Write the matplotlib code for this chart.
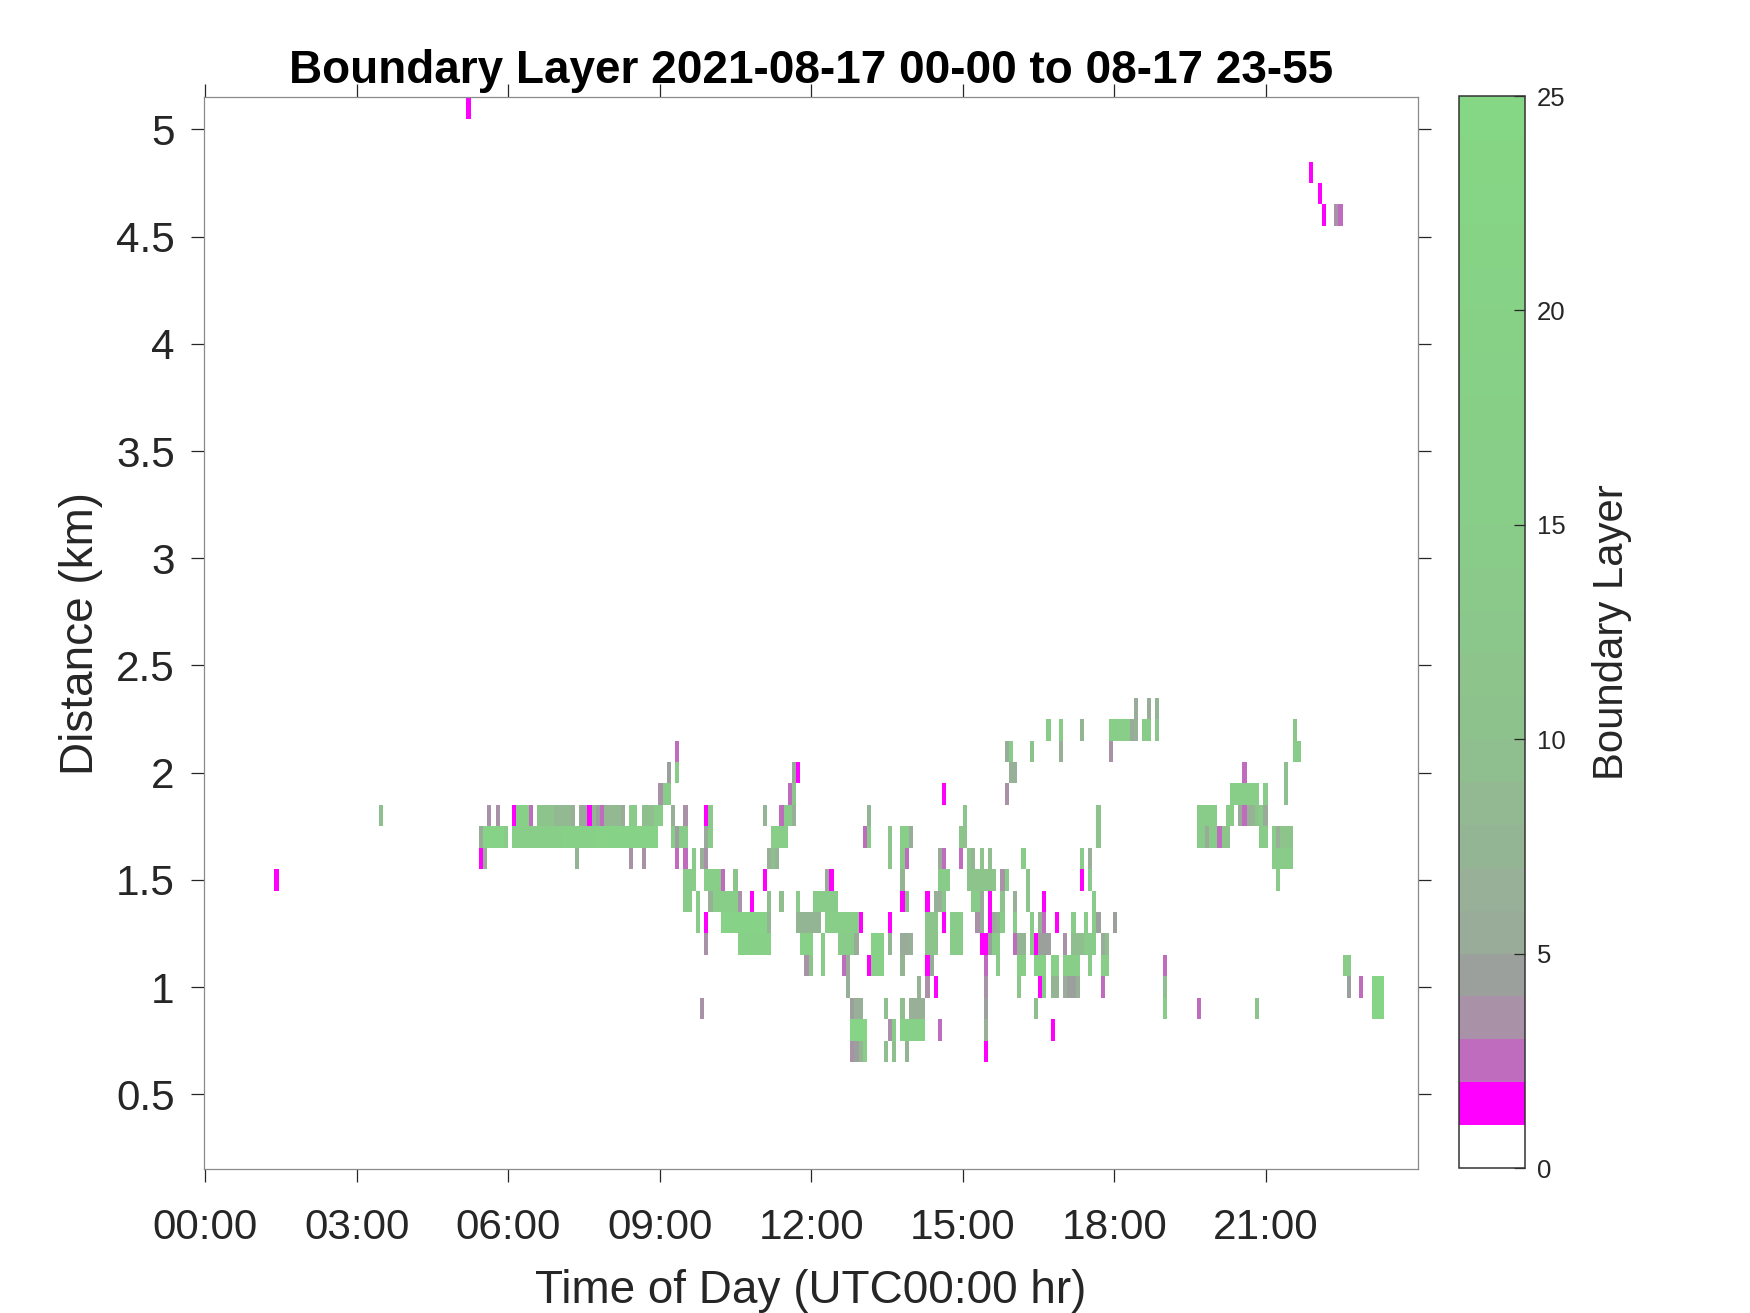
import numpy as np
import matplotlib
matplotlib.use("Agg")
import matplotlib.pyplot as plt
from matplotlib.colors import LinearSegmentedColormap, Normalize

plt.rcParams['font.family'] = ['Liberation Sans', 'DejaVu Sans']

# Boundary layer values, one list per height row (km)
# each entry is (first time column, last time column, value)
row_5_1 = [(62, 62, 1)]
row_4_8 = [(264, 264, 1)]
row_4_7 = [(266, 266, 1)]
row_4_6 = [(267, 267, 1), (270, 270, 3), (271, 271, 2)]
row_2_3 = [(222, 222, 5), (225, 225, 5), (227, 227, 7)]
row_2_2 = [(201, 201, 14), (204, 204, 14), (209, 209, 7), (216, 220, 16), (221, 221, 5),
           (222, 222, 6), (224, 225, 14), (227, 227, 11), (260, 260, 11)]
row_2_1 = [(112, 112, 2), (191, 191, 5), (192, 192, 14), (197, 197, 11), (204, 204, 6),
           (216, 216, 3), (260, 261, 14)]
row_2_0 = [(110, 110, 4), (112, 112, 14), (140, 140, 5), (141, 141, 1), (192, 193, 6),
           (248, 248, 2), (258, 258, 9)]
row_1_9 = [(108, 108, 3), (109, 110, 14), (139, 139, 2), (140, 140, 11), (176, 176, 1),
           (191, 191, 3), (245, 251, 16), (253, 253, 14), (258, 258, 9)]
row_1_8 = [(41, 41, 9), (67, 67, 3), (69, 69, 3), (73, 73, 1), (74, 76, 18), (77, 77, 2),
           (79, 82, 11), (83, 86, 8), (87, 87, 6), (89, 90, 5), (91, 91, 1), (92, 92, 7),
           (93, 93, 4), (94, 94, 2), (95, 98, 8), (99, 99, 5), (101, 102, 14), (104, 106, 9),
           (107, 108, 14), (111, 111, 6), (114, 114, 3), (119, 119, 1), (120, 120, 14),
           (133, 133, 7), (137, 137, 2), (138, 139, 14), (140, 140, 6), (158, 158, 7),
           (181, 181, 11), (213, 213, 11), (237, 241, 14), (244, 245, 14), (247, 247, 5),
           (248, 248, 2), (249, 249, 6), (250, 250, 7), (251, 251, 11), (252, 252, 14),
           (253, 253, 5)]
row_1_7 = [(65, 65, 5), (66, 70, 20), (71, 71, 14), (73, 84, 16), (85, 92, 18), (93, 107, 20),
           (111, 111, 14), (112, 112, 4), (113, 114, 14), (119, 119, 5), (120, 120, 14),
           (135, 138, 16), (157, 157, 2), (158, 158, 14), (163, 163, 11), (166, 167, 16),
           (168, 168, 5), (180, 181, 11), (213, 213, 11), (237, 238, 14), (239, 239, 5),
           (240, 241, 14), (242, 242, 2), (243, 244, 11), (252, 253, 14), (255, 255, 14),
           (256, 256, 6), (257, 259, 11)]
row_1_6 = [(65, 65, 1), (66, 66, 6), (88, 88, 7), (101, 101, 3), (104, 104, 3), (112, 112, 2),
           (114, 114, 2), (116, 116, 14), (118, 118, 6), (119, 119, 3), (134, 134, 6),
           (135, 135, 9), (136, 136, 7), (163, 163, 11), (166, 166, 14), (167, 167, 2),
           (175, 175, 5), (176, 176, 2), (180, 180, 2), (182, 182, 11), (183, 183, 7),
           (185, 185, 11), (187, 187, 9), (195, 195, 14), (209, 209, 14), (211, 211, 6),
           (255, 259, 14)]
row_1_5 = [(16, 16, 1), (114, 116, 14), (119, 122, 16), (123, 123, 2), (126, 126, 11),
           (133, 133, 1), (148, 148, 5), (149, 149, 1), (166, 166, 7), (175, 177, 14),
           (182, 188, 11), (190, 190, 3), (191, 191, 14), (196, 196, 11), (209, 209, 1),
           (211, 211, 14), (256, 256, 14)]
row_1_4 = [(114, 115, 14), (117, 117, 14), (120, 120, 6), (121, 126, 16), (127, 127, 3),
           (130, 130, 1), (134, 134, 9), (137, 137, 9), (141, 141, 14), (145, 150, 14),
           (166, 166, 1), (167, 167, 9), (172, 172, 1), (174, 175, 6), (176, 176, 11),
           (183, 184, 14), (185, 185, 5), (187, 187, 1), (190, 190, 11), (193, 193, 6),
           (196, 196, 11), (200, 200, 1), (212, 212, 14)]
row_1_3 = [(117, 117, 14), (119, 119, 1), (123, 133, 20), (134, 134, 7), (141, 146, 7),
           (148, 155, 16), (156, 156, 1), (163, 163, 1), (172, 174, 11), (176, 176, 1),
           (178, 180, 14), (184, 184, 3), (185, 185, 5), (187, 187, 1), (188, 188, 5),
           (189, 189, 7), (190, 190, 14), (193, 193, 14), (197, 197, 14), (199, 199, 7),
           (200, 200, 2), (203, 203, 1), (207, 207, 14), (210, 210, 14), (212, 212, 14),
           (213, 213, 4), (217, 217, 4)]
row_1_2 = [(119, 119, 3), (127, 134, 18), (142, 144, 18), (147, 147, 14), (151, 154, 14),
           (155, 155, 5), (159, 161, 18), (163, 163, 7), (166, 167, 5), (168, 168, 6),
           (172, 174, 11), (178, 180, 14), (185, 186, 1), (187, 187, 4), (188, 189, 14),
           (193, 193, 2), (194, 195, 7), (197, 197, 14), (198, 198, 1), (199, 201, 4),
           (205, 205, 3), (207, 209, 9), (210, 212, 14), (214, 214, 5), (215, 215, 9)]
row_1_1 = [(143, 143, 3), (144, 144, 11), (147, 147, 14), (152, 152, 2), (153, 153, 5),
           (158, 158, 1), (159, 161, 18), (166, 166, 7), (172, 172, 1), (173, 173, 5),
           (186, 186, 2), (189, 189, 14), (194, 195, 16), (198, 200, 18), (202, 203, 18),
           (205, 208, 16), (211, 211, 14), (214, 215, 16), (229, 229, 2), (272, 273, 14)]
row_1_0 = [(153, 153, 6), (170, 170, 7), (172, 172, 3), (174, 174, 1), (186, 186, 3),
           (194, 194, 11), (199, 199, 1), (200, 200, 14), (202, 203, 7), (205, 205, 5),
           (206, 207, 4), (208, 208, 6), (214, 214, 2), (229, 229, 9), (273, 273, 4),
           (276, 276, 2), (279, 281, 22)]
row_0_9 = [(118, 118, 3), (154, 154, 4), (155, 156, 6), (162, 162, 9), (166, 166, 9),
           (168, 171, 6), (186, 186, 4), (198, 198, 9), (229, 229, 14), (237, 237, 2),
           (251, 251, 11), (279, 281, 22)]
row_0_8 = [(154, 157, 22), (163, 163, 3), (164, 164, 14), (166, 171, 18), (175, 175, 2),
           (186, 186, 6), (202, 202, 1)]
row_0_7 = [(154, 154, 3), (155, 155, 4), (156, 156, 7), (157, 157, 16), (162, 162, 9),
           (164, 164, 9), (167, 167, 7), (186, 186, 1)]

rows = {5.1: row_5_1, 4.8: row_4_8, 4.7: row_4_7, 4.6: row_4_6, 2.3: row_2_3, 2.2: row_2_2,
        2.1: row_2_1, 2.0: row_2_0, 1.9: row_1_9, 1.8: row_1_8, 1.7: row_1_7, 1.6: row_1_6,
        1.5: row_1_5, 1.4: row_1_4, 1.3: row_1_3, 1.2: row_1_2, 1.1: row_1_1, 1.0: row_1_0,
        0.9: row_0_9, 0.8: row_0_8, 0.7: row_0_7}

time_ticks = [0, 3, 6, 9, 12, 15, 18, 21]
time_labels = ['00:00', '03:00', '06:00', '09:00', '12:00', '15:00', '18:00', '21:00']
dist_ticks = [0.5, 1, 1.5, 2, 2.5, 3, 3.5, 4, 4.5, 5]
dist_labels = ['0.5', '1', '1.5', '2', '2.5', '3', '3.5', '4', '4.5', '5']
cbar_ticks = [0, 5, 10, 15, 20, 25]

# Grid: a column is a bit under 5 minutes wide on the axis, rows are 0.1 km
n_cols = 290
time_edges = 0.0446 + np.arange(n_cols + 1) * 0.08262
dist_edges = 0.15 + np.arange(51) * 0.1
grid = np.zeros((50, n_cols))
for km, runs in rows.items():
    r = int(round((km - 0.2) * 10))
    for first, last, val in runs:
        grid[r, first:last + 1] = val

# 25 level colormap
cmap = LinearSegmentedColormap.from_list('layer', [
    (0 / 24, (1, 1, 1)),
    (1 / 24, (1, 0, 1)),
    (2 / 24, (192 / 255, 108 / 255, 190 / 255)),
    (3 / 24, (169 / 255, 146 / 255, 168 / 255)),
    (4 / 24, (156 / 255, 160 / 255, 156 / 255)),
    (5 / 24, (153 / 255, 172 / 255, 153 / 255)),
    (10 / 24, (141 / 255, 194 / 255, 141 / 255)),
    (15 / 24, (136 / 255, 205 / 255, 136 / 255)),
    (24 / 24, (133 / 255, 214 / 255, 133 / 255)),
], N=25)

W, H = 1750, 1313
fig = plt.figure(figsize=(W / 100, H / 100), dpi=100)
ax = fig.add_axes([203.7 / W, 1 - 1169.3 / H, (1418.3 - 203.7) / W, (1169.3 - 97.3) / H])
mesh = ax.pcolormesh(time_edges, dist_edges, np.ma.masked_equal(grid, 0), cmap=cmap,
                     norm=Normalize(0, 25), linewidth=0, rasterized=True)
ax.set_xlim(-0.035, 24.016)
ax.set_ylim(0.15, 5.15)

dark = '#262626'
ax.set_xticks(time_ticks)
ax.set_xticklabels(time_labels)
ax.set_yticks(dist_ticks)
ax.set_yticklabels(dist_labels)
ax.tick_params(axis='both', direction='out', length=9.4, width=0.9, color=dark,
               labelcolor=dark, labelsize=30.4, top=True, right=True)
ax.tick_params(axis='x', pad=18.5)
ax.tick_params(axis='y', pad=11.5)
for s in ax.spines.values():
    s.set_color('#8a8a8a')
    s.set_linewidth(0.9)
ax.set_xlabel('Time of Day (UTC00:00 hr)', fontsize=33, color=dark, labelpad=15)
ax.set_ylabel('Distance (km)', fontsize=33, color=dark, labelpad=9.5)
ax.set_title('Boundary Layer 2021-08-17 00-00 to 08-17 23-55', fontsize=33, fontweight='bold',
             color='black', pad=10)

cax = fig.add_axes([1458.5 / W, 1 - 1168 / H, (1524.5 - 1458.5) / W, (1168 - 96) / H])
cb = fig.colorbar(mesh, cax=cax)
cb.set_ticks(cbar_ticks)
cb.ax.tick_params(direction='in', length=8, width=0.9, color='#262626', labelcolor=dark,
                  labelsize=18.5, pad=9)
cb.outline.set_edgecolor('#333333')
cb.outline.set_linewidth(1.1)
cb.set_label('Boundary Layer', fontsize=30.2, color=dark, labelpad=19)

plt.savefig('out.png', dpi=100)
